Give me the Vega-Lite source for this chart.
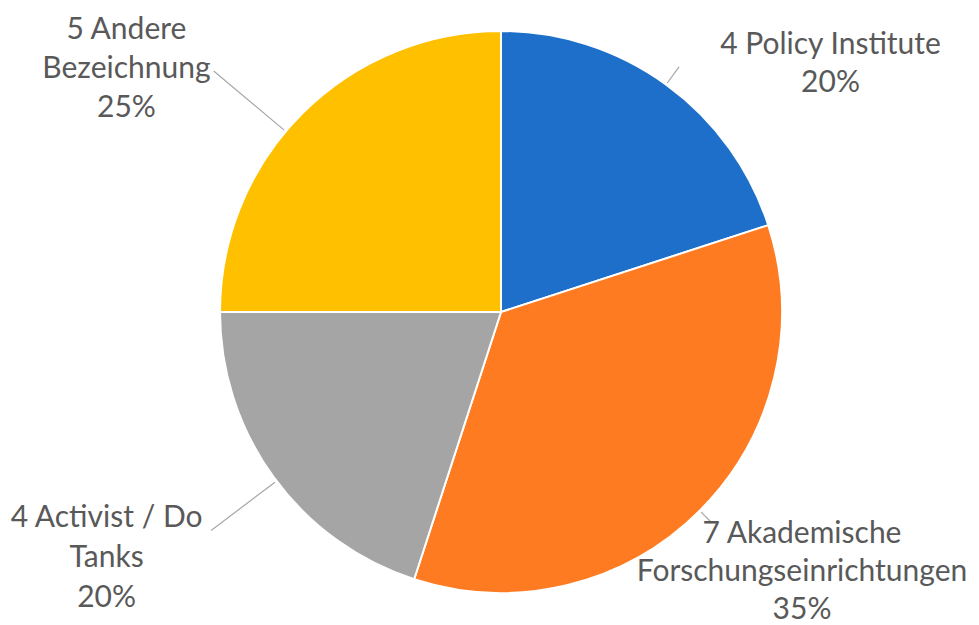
{
  "$schema": "https://vega.github.io/schema/vega-lite/v6.json",
  "width": 956,
  "height": 624,
  "autosize": "none",
  "padding": {"left": 23, "right": 0, "top": 0, "bottom": 1},
  "background": "white",
  "config": {"view": {"stroke": null}},
  "data": {
    "values": [
      {"cat": "Policy Institute", "n": 4, "ord": 1, "label": "4 Policy Institute\n20%"},
      {"cat": "Akademische Forschungseinrichtungen", "n": 7, "ord": 2, "label": "7 Akademische\nForschungseinrichtungen\n35%"},
      {"cat": "Activist / Do Tanks", "n": 4, "ord": 3, "label": "4 Activist / Do\nTanks\n20%"},
      {"cat": "Andere Bezeichnung", "n": 5, "ord": 4, "label": "5 Andere\nBezeichnung\n25%"}
    ]
  },
  "layer": [
    {
      "mark": {"type": "arc", "outerRadius": 281, "stroke": "white", "strokeWidth": 2},
      "encoding": {
        "theta": {"field": "n", "type": "quantitative", "stack": true, "scale": {"domain": [0, 20]}},
        "order": {"field": "ord", "type": "ordinal"},
        "color": {
          "field": "cat",
          "type": "nominal",
          "scale": {
            "domain": ["Policy Institute", "Akademische Forschungseinrichtungen", "Activist / Do Tanks", "Andere Bezeichnung"],
            "range": ["#1e6fc9", "#fe7b21", "#a5a5a5", "#ffc000"]
          },
          "legend": null
        }
      }
    },
    {
      "transform": [
        {"stack": "n", "groupby": [], "sort": [{"field": "ord"}], "as": ["s0", "s1"]},
        {"filter": "datum.ord === 1"}
      ],
      "mark": {"type": "arc", "innerRadius": 283, "outerRadius": 303, "thetaOffset": 0.628, "theta2Offset": 0.628, "fillOpacity": 0, "stroke": "#a6a6a6", "strokeWidth": 1.2},
      "encoding": {
        "theta": {"field": "s0", "type": "quantitative", "scale": {"domain": [0, 20]}},
        "theta2": {"field": "s0"}
      }
    },
    {
      "transform": [
        {"stack": "n", "groupby": [], "sort": [{"field": "ord"}], "as": ["s0", "s1"]},
        {"filter": "datum.ord === 2"}
      ],
      "mark": {"type": "arc", "innerRadius": 283, "outerRadius": 297, "thetaOffset": 1.0996, "theta2Offset": 1.0996, "fillOpacity": 0, "stroke": "#a6a6a6", "strokeWidth": 1.2},
      "encoding": {
        "theta": {"field": "s0", "type": "quantitative", "scale": {"domain": [0, 20]}},
        "theta2": {"field": "s0"}
      }
    },
    {
      "transform": [
        {"stack": "n", "groupby": [], "sort": [{"field": "ord"}], "as": ["s0", "s1"]},
        {"filter": "datum.ord === 3"}
      ],
      "mark": {"type": "arc", "innerRadius": 283, "outerRadius": 363, "thetaOffset": 0.6109, "theta2Offset": 0.6109, "fillOpacity": 0, "stroke": "#a6a6a6", "strokeWidth": 1.2},
      "encoding": {
        "theta": {"field": "s0", "type": "quantitative", "scale": {"domain": [0, 20]}},
        "theta2": {"field": "s0"}
      }
    },
    {
      "transform": [
        {"stack": "n", "groupby": [], "sort": [{"field": "ord"}], "as": ["s0", "s1"]},
        {"filter": "datum.ord === 4"}
      ],
      "mark": {"type": "arc", "innerRadius": 283, "outerRadius": 375, "thetaOffset": 0.698, "theta2Offset": 0.698, "fillOpacity": 0, "stroke": "#a6a6a6", "strokeWidth": 1.2},
      "encoding": {
        "theta": {"field": "s0", "type": "quantitative", "scale": {"domain": [0, 20]}},
        "theta2": {"field": "s0"}
      }
    },
    {
      "mark": {"type": "text", "radius": 424, "thetaOffset": 0.2618, "align": "center", "baseline": "middle", "lineBreak": "\n", "lineHeight": 38, "font": "Lato", "fontSize": 30, "color": "#595959"},
      "encoding": {
        "theta": {"field": "n", "type": "quantitative", "stack": true, "scale": {"domain": [0, 20]}},
        "order": {"field": "ord", "type": "ordinal"},
        "text": {"condition": {"test": "datum.ord === 1", "field": "label"}, "value": ""}
      }
    },
    {
      "mark": {"type": "text", "radius": 374, "thetaOffset": -0.150, "align": "center", "baseline": "middle", "lineBreak": "\n", "lineHeight": 38, "font": "Lato", "fontSize": 30, "color": "#595959"},
      "encoding": {
        "theta": {"field": "n", "type": "quantitative", "stack": true, "scale": {"domain": [0, 20]}},
        "order": {"field": "ord", "type": "ordinal"},
        "text": {"condition": {"test": "datum.ord === 2", "field": "label"}, "value": ""}
      }
    },
    {
      "mark": {"type": "text", "radius": 445, "thetaOffset": 0.1466, "align": "center", "baseline": "middle", "lineBreak": "\n", "lineHeight": 40, "font": "Lato", "fontSize": 30, "color": "#595959"},
      "encoding": {
        "theta": {"field": "n", "type": "quantitative", "stack": true, "scale": {"domain": [0, 20]}},
        "order": {"field": "ord", "type": "ordinal"},
        "text": {"condition": {"test": "datum.ord === 3", "field": "label"}, "value": ""}
      }
    },
    {
      "mark": {"type": "text", "radius": 469, "thetaOffset": -0.1396, "align": "center", "baseline": "middle", "lineBreak": "\n", "lineHeight": 39, "font": "Lato", "fontSize": 30, "color": "#595959"},
      "encoding": {
        "theta": {"field": "n", "type": "quantitative", "stack": true, "scale": {"domain": [0, 20]}},
        "order": {"field": "ord", "type": "ordinal"},
        "text": {"condition": {"test": "datum.ord === 4", "field": "label"}, "value": ""}
      }
    }
  ]
}
